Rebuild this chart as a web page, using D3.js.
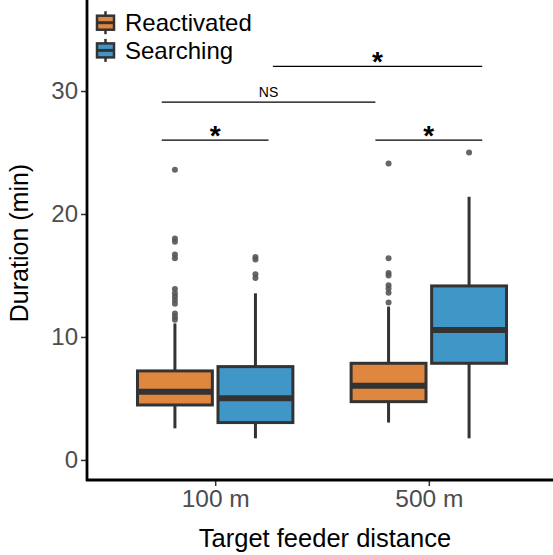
<!DOCTYPE html>
<html>
<head>
<meta charset="utf-8">
<script src="https://cdn.jsdelivr.net/npm/d3@7"></script>
<style>
    body { margin: 0; background: #fff; }
    text { font-family: Arial, "Liberation Sans", sans-serif; }
</style>
</head>
<body>
<div id="chart"></div>
<script>
const distances = ["100 m", "500 m"];
const groups = ["Reactivated", "Searching"];

// one entry per box: 100 m Reactivated, 100 m Searching, 500 m Reactivated, 500 m Searching
const boxDistance = ["100 m", "100 m", "500 m", "500 m"];
const boxGroup = ["Reactivated", "Searching", "Reactivated", "Searching"];
const whiskerLow = [2.57, 1.76, 3.04, 1.76];
const q1 = [4.47, 3.04, 4.74, 7.86];
const median = [5.55, 5.01, 6.04, 10.57];
const q3 = [7.24, 7.59, 7.86, 14.15];
const whiskerHigh = [11.1, 13.55, 12.47, 21.4];
const outliers = [
    [23.6, 18.0, 17.75, 16.7, 16.4, 13.9, 13.55, 13.3, 13.0, 12.7, 11.9, 11.65, 11.4],
    [16.5, 16.3, 15.1, 14.8],
    [24.1, 16.4, 15.2, 15.0, 14.2, 13.95, 13.6, 12.8],
    [25.0]
];

const yTicks = [0, 10, 20, 30];

// significance brackets, x in category units (1 = 100 m, 2 = 500 m)
const sigXmin = [0.75, 0.75, 1.75, 1.27];
const sigXmax = [1.25, 1.75, 2.25, 2.25];
const sigY = [26.0, 29.1, 26.0, 32.0];
const sigLabel = ["*", "NS", "*", "*"];

const colors = { "Reactivated": "#E0873F", "Searching": "#4096C6" };
const dark = "#333333";

const width = 553, height = 555;
const margin = { top: 0, right: -4, bottom: 75, left: 87 };

const svg = d3.select("#chart")
    .append("svg")
    .attr("width", width)
    .attr("height", height);

const x = d3.scalePoint()
    .domain(distances)
    .range([margin.left, width - margin.right])
    .padding(0.6);

const step = x.step();

const xSub = d3.scaleBand()
    .domain(groups)
    .range([-0.375 * step, 0.375 * step])
    .paddingInner(0.07)
    .paddingOuter(0.03);

const xNum = d3.scaleLinear()
    .domain([1, 2])
    .range([x(distances[0]), x(distances[1])]);

const y = d3.scaleLinear()
    .domain([-1.63, 37.4])
    .range([height - margin.bottom, margin.top]);

const boxes = boxDistance.map((d, i) => ({
    distance: d,
    group: boxGroup[i],
    lo: whiskerLow[i], q1: q1[i], med: median[i], q3: q3[i], hi: whiskerHigh[i],
    out: outliers[i]
}));

const bw = xSub.bandwidth();

const g = svg.selectAll(".box")
    .data(boxes)
    .enter()
    .append("g")
    .attr("class", "box")
    .attr("transform", d => `translate(${x(d.distance) + xSub(d.group)},0)`);

g.append("line")
    .attr("x1", bw / 2).attr("x2", bw / 2)
    .attr("y1", d => y(d.hi)).attr("y2", d => y(d.q3))
    .attr("stroke", dark).attr("stroke-width", 3);

g.append("line")
    .attr("x1", bw / 2).attr("x2", bw / 2)
    .attr("y1", d => y(d.q1)).attr("y2", d => y(d.lo))
    .attr("stroke", dark).attr("stroke-width", 3);

g.append("rect")
    .attr("x", 0)
    .attr("width", bw)
    .attr("y", d => y(d.q3))
    .attr("height", d => y(d.q1) - y(d.q3))
    .attr("fill", d => colors[d.group])
    .attr("stroke", dark)
    .attr("stroke-width", 3);

g.append("line")
    .attr("x1", 0).attr("x2", bw)
    .attr("y1", d => y(d.med)).attr("y2", d => y(d.med))
    .attr("stroke", dark).attr("stroke-width", 6);

g.selectAll(".outlier")
    .data(d => d.out)
    .enter()
    .append("circle")
    .attr("class", "outlier")
    .attr("cx", bw / 2)
    .attr("cy", v => y(v))
    .attr("r", 3)
    .attr("fill", "#555555")
    .attr("fill-opacity", 0.9);

// axes
const yAxis = svg.append("g")
    .attr("transform", `translate(${margin.left},0)`)
    .call(d3.axisLeft(y).tickValues(yTicks).tickSize(6).tickPadding(3));
yAxis.select(".domain").remove();
yAxis.selectAll(".tick line").attr("stroke", dark).attr("stroke-width", 1.5);
yAxis.selectAll(".tick text")
    .attr("fill", "#4D4D4D")
    .style("font-size", "24px");

const xAxis = svg.append("g")
    .attr("transform", `translate(0,${height - margin.bottom})`)
    .call(d3.axisBottom(x).tickSize(6).tickPadding(4));
xAxis.select(".domain").remove();
xAxis.selectAll(".tick line").attr("stroke", dark).attr("stroke-width", 1.5);
xAxis.selectAll(".tick text")
    .attr("fill", "#4D4D4D")
    .style("font-size", "24.5px");

svg.append("line")
    .attr("x1", margin.left).attr("x2", margin.left)
    .attr("y1", 0).attr("y2", height - margin.bottom + 1)
    .attr("stroke", "black").attr("stroke-width", 2.8);
svg.append("line")
    .attr("x1", margin.left - 1).attr("x2", width)
    .attr("y1", height - margin.bottom).attr("y2", height - margin.bottom)
    .attr("stroke", "black").attr("stroke-width", 2.8);

// axis titles
svg.append("text")
    .attr("x", (margin.left + width) / 2 + 5)
    .attr("y", 547)
    .attr("text-anchor", "middle")
    .style("font-size", "25.5px")
    .text("Target feeder distance");

svg.append("text")
    .attr("transform", `translate(28,243) rotate(-90)`)
    .attr("text-anchor", "middle")
    .style("font-size", "25px")
    .text("Duration (min)");

// significance brackets
const sig = sigLabel.map((l, i) => ({ label: l, x0: sigXmin[i], x1: sigXmax[i], v: sigY[i] }));

svg.selectAll(".sig-line")
    .data(sig)
    .enter()
    .append("line")
    .attr("class", "sig-line")
    .attr("x1", d => xNum(d.x0))
    .attr("x2", d => xNum(d.x1))
    .attr("y1", d => y(d.v))
    .attr("y2", d => y(d.v))
    .attr("stroke", "black")
    .attr("stroke-width", 1.2);

svg.selectAll(".sig-label")
    .data(sig)
    .enter()
    .append("text")
    .attr("class", "sig-label")
    .attr("x", d => xNum((d.x0 + d.x1) / 2))
    .attr("y", d => d.label === "*" ? y(d.v) + 5 : y(d.v) - 5)
    .attr("text-anchor", "middle")
    .style("font-size", d => d.label === "*" ? "28px" : "14px")
    .style("font-weight", d => d.label === "*" ? "bold" : "normal")
    .text(d => d.label);

// legend
const legend = svg.append("g").attr("transform", "translate(97,0)");
const item = legend.selectAll(".legend-item")
    .data(groups)
    .enter()
    .append("g")
    .attr("class", "legend-item")
    .attr("transform", (d, i) => `translate(0,${22.7 + i * 27.7})`);

item.append("line")
    .attr("x1", 8.5).attr("x2", 8.5)
    .attr("y1", -11.5).attr("y2", 11.5)
    .attr("stroke", dark).attr("stroke-width", 2.5);
item.append("rect")
    .attr("x", 0).attr("y", -7)
    .attr("width", 17).attr("height", 14)
    .attr("fill", d => colors[d])
    .attr("stroke", dark).attr("stroke-width", 2.5);
item.append("line")
    .attr("x1", 0).attr("x2", 17)
    .attr("y1", 0).attr("y2", 0)
    .attr("stroke", dark).attr("stroke-width", 3);
item.append("text")
    .attr("x", 28)
    .attr("y", 8.5)
    .style("font-size", "24px")
    .text(d => d);
</script>
</body>
</html>
